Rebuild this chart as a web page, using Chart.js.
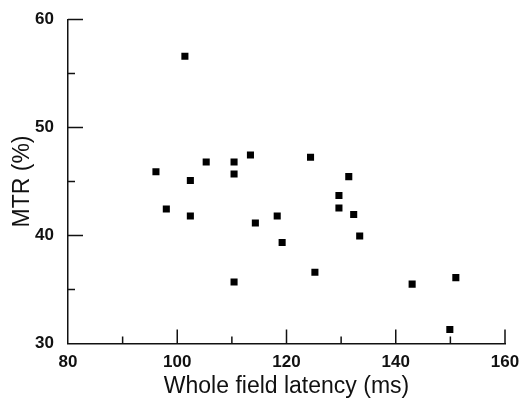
<!DOCTYPE html>
<html>
<head>
<meta charset="utf-8">
<script src="https://cdn.jsdelivr.net/npm/chart.js@4"></script>
<style>
  body { margin: 0; background: #fff; }
  #grafico { display: block; }
</style>
</head>
<body>
<canvas id="grafico" width="520" height="400"></canvas>
<script>
// latency (ms) and MTR (%)
const latencias = [101.4, 96.1, 105.3, 110.4, 113.4, 110.4, 102.4, 98.0, 102.4, 114.3, 110.4, 124.4, 131.4, 129.6, 129.6, 118.3, 132.3, 133.4, 119.2, 125.2, 143.0, 151.0, 149.9];
const valoresMTR = [56.6, 45.9, 46.8, 46.8, 47.45, 45.7, 45.1, 42.45, 41.8, 41.15, 35.7, 47.25, 45.45, 43.7, 42.55, 41.8, 41.95, 39.95, 39.35, 36.6, 35.5, 36.1, 31.3];

const xTicksMayores = [80, 100, 120, 140, 160];
const xTicksMenores = [90, 110, 130, 150];
const yTicksMayores = [30, 40, 50, 60];
const yTicksMenores = [35, 45, 55];

const puntos = latencias.map((x, i) => ({ x: x, y: valoresMTR[i] }));

// tick marks point inward, so draw them ourselves
const ticksInternos = {
  id: "ticksInternos",
  afterDraw(chart) {
    const ctx = chart.ctx;
    const xs = chart.scales.x;
    const ys = chart.scales.y;
    const x0 = xs.left;
    const y0 = ys.bottom;
    ctx.save();
    ctx.strokeStyle = "#111";
    ctx.lineWidth = 1.5;
    ctx.beginPath();
    xTicksMayores.slice(1).forEach((v) => {
      const px = xs.getPixelForValue(v);
      ctx.moveTo(px, y0);
      ctx.lineTo(px, y0 - 14);
    });
    xTicksMenores.forEach((v) => {
      const px = xs.getPixelForValue(v);
      ctx.moveTo(px, y0);
      ctx.lineTo(px, y0 - 7);
    });
    yTicksMayores.slice(1).forEach((v) => {
      const py = ys.getPixelForValue(v);
      ctx.moveTo(x0, py);
      ctx.lineTo(x0 + 15, py);
    });
    yTicksMenores.forEach((v) => {
      const py = ys.getPixelForValue(v);
      ctx.moveTo(x0, py);
      ctx.lineTo(x0 + 7, py);
    });
    ctx.stroke();
    ctx.restore();
  },
};

const fuenteTicks = { family: "'Liberation Sans', Arial, sans-serif", size: 17, weight: "bold" };
const fuenteTitulo = { family: "'Liberation Sans', Arial, sans-serif", size: 23 };

new Chart(document.getElementById("grafico"), {
  type: "scatter",
  data: {
    datasets: [
      {
        data: puntos,
        pointStyle: "rect",
        pointRadius: 5,
        pointHoverRadius: 5,
        pointBorderWidth: 0,
        backgroundColor: "#000",
        borderColor: "#000",
      },
    ],
  },
  options: {
    responsive: false,
    animation: false,
    layout: { padding: { top: 19.5, right: 15, bottom: 0, left: 0 } },
    plugins: { legend: { display: false }, tooltip: { enabled: false } },
    scales: {
      x: {
        type: "linear",
        min: 80,
        max: 160,
        afterBuildTicks: (scale) => {
          scale.ticks = xTicksMayores.map((v) => ({ value: v }));
        },
        afterFit: (scale) => {
          scale.height = 56.5;
          scale.paddingLeft = 0;
          scale.paddingRight = 0;
        },
        grid: { display: false, drawTicks: false },
        border: { display: true, color: "#111", width: 1.5 },
        ticks: { color: "#111", font: fuenteTicks, padding: 9, maxRotation: 0 },
        title: {
          display: true,
          text: "Whole field latency (ms)",
          color: "#111",
          font: fuenteTitulo,
          padding: { top: 0, bottom: 0 },
        },
      },
      y: {
        type: "linear",
        min: 30,
        max: 60,
        afterBuildTicks: (scale) => {
          scale.ticks = yTicksMayores.map((v) => ({ value: v }));
        },
        afterFit: (scale) => {
          scale.width = 68;
          scale.paddingTop = 0;
          scale.paddingBottom = 0;
        },
        grid: { display: false, drawTicks: false },
        border: { display: true, color: "#111", width: 1.5 },
        ticks: { color: "#111", font: fuenteTicks, padding: 14 },
        title: {
          display: true,
          text: "MTR (%)",
          color: "#111",
          font: fuenteTitulo,
          padding: { top: 9, bottom: 0 },
        },
      },
    },
  },
  plugins: [ticksInternos],
});
</script>
</body>
</html>
